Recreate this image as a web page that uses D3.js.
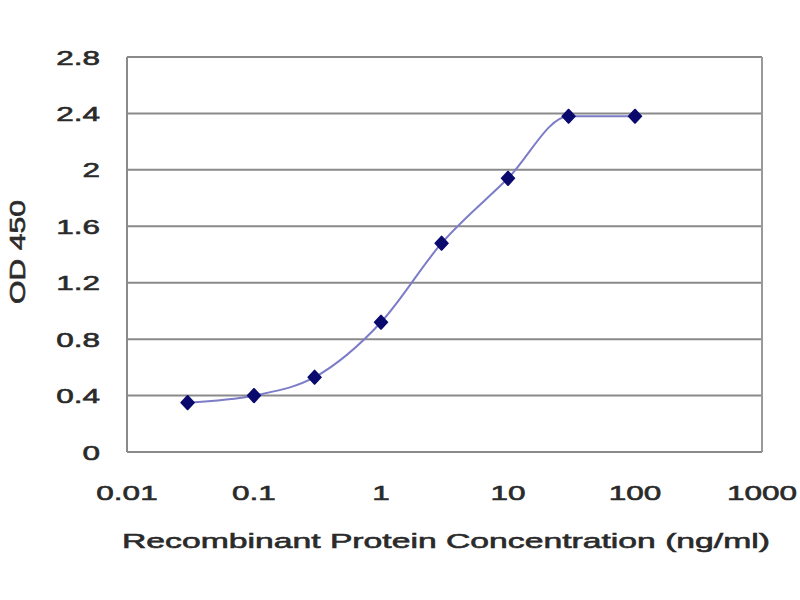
<!DOCTYPE html>
<html>
<head>
<meta charset="utf-8">
<script src="https://cdn.jsdelivr.net/npm/d3@7"></script>
<style>
  html, body { margin: 0; padding: 0; background: #fff; }
  text { font-family: "Liberation Sans", Arial, sans-serif; fill: #2a2a2a; stroke: #2a2a2a; stroke-width: 0.6px; }
</style>
</head>
<body>
<svg id="chart" width="800" height="600"></svg>
<script>
const concentrations = [0.03, 0.1, 0.3, 1, 3, 10, 30, 100];
const od450 = [0.35, 0.40, 0.53, 0.92, 1.48, 1.94, 2.38, 2.38];
const xTicks = [0.01, 0.1, 1, 10, 100, 1000];
const xTickLabels = ["0.01", "0.1", "1", "10", "100", "1000"];
const yTicks = [0, 0.4, 0.8, 1.2, 1.6, 2, 2.4, 2.8];
const yTickLabels = ["0", "0.4", "0.8", "1.2", "1.6", "2", "2.4", "2.8"];
const xTitle = "Recombinant Protein Concentration (ng/ml)";
const yTitle = "OD 450";

const svg = d3.select("#chart");
const margin = { left: 127, right: 38, top: 57, bottom: 148 };
const W = 800, H = 600;

const x = d3.scaleLog().domain([0.01, 1000]).range([margin.left, W - margin.right]);
const y = d3.scaleLinear().domain([0, 2.8]).range([H - margin.bottom, margin.top]);

const stretch = 1.5;
function widen(sel, factor) {
  sel.each(function() {
    const w = this.getComputedTextLength();
    d3.select(this).attr("textLength", w * factor).attr("lengthAdjust", "spacingAndGlyphs");
  });
}

// gridlines
svg.append("g").selectAll("line").data(yTicks.filter(d => d > 0)).join("line")
  .attr("x1", x(0.01)).attr("x2", x(1000))
  .attr("y1", d => y(d)).attr("y2", d => y(d))
  .attr("stroke", "#8a8a8a").attr("stroke-width", 2);

// frame: left, bottom, right
svg.append("line").attr("x1", x(0.01)).attr("x2", x(0.01)).attr("y1", y(2.8)).attr("y2", y(0))
  .attr("stroke", "#8a8a8a").attr("stroke-width", 2);
svg.append("line").attr("x1", x(1000)).attr("x2", x(1000)).attr("y1", y(2.8)).attr("y2", y(0))
  .attr("stroke", "#9a9a9a").attr("stroke-width", 2);
svg.append("line").attr("x1", x(0.01)).attr("x2", x(1000)).attr("y1", y(0)).attr("y2", y(0))
  .attr("stroke", "#8a8a8a").attr("stroke-width", 2);

// y tick labels
const yl = svg.append("g").selectAll("text").data(yTicks).join("text")
  .attr("x", 100).attr("y", d => y(d)).attr("dy", "0.36em")
  .attr("text-anchor", "end").attr("font-size", 21)
  .text((d, i) => yTickLabels[i]);
widen(yl, stretch);

// x tick labels
const xl = svg.append("g").selectAll("text").data(xTicks).join("text")
  .attr("x", d => x(d)).attr("y", 500)
  .attr("text-anchor", "middle").attr("font-size", 21)
  .text((d, i) => xTickLabels[i]);
widen(xl, stretch);

// titles
const xt = svg.append("text").attr("x", 446).attr("y", 548)
  .attr("text-anchor", "middle").attr("font-size", 21).text(xTitle);
xt.attr("textLength", 648).attr("lengthAdjust", "spacingAndGlyphs");

const yt = svg.append("text")
  .attr("transform", "translate(25,252) rotate(-90)")
  .attr("text-anchor", "middle").attr("font-size", 22).text(yTitle);
yt.attr("textLength", 104).attr("lengthAdjust", "spacingAndGlyphs");

// line
const pts = concentrations.map((c, i) => [c, od450[i]]);
const line = d3.line().x(d => x(d[0])).y(d => y(d[1])).curve(d3.curveMonotoneX);
svg.append("path").datum(pts).attr("d", line)
  .attr("fill", "none").attr("stroke", "#7c7cc8").attr("stroke-width", 2);

// markers
svg.append("g").selectAll("path").data(pts).join("path")
  .attr("transform", d => `translate(${x(d[0])},${y(d[1])}) scale(1.35,0.85)`)
  .attr("d", d3.symbol().type(d3.symbolDiamond).size(80))
  .attr("fill", "#0a0a6e").attr("stroke", "#0a0a6e").attr("stroke-width", 1.2)
  .attr("stroke-linejoin", "round");
</script>
</body>
</html>
